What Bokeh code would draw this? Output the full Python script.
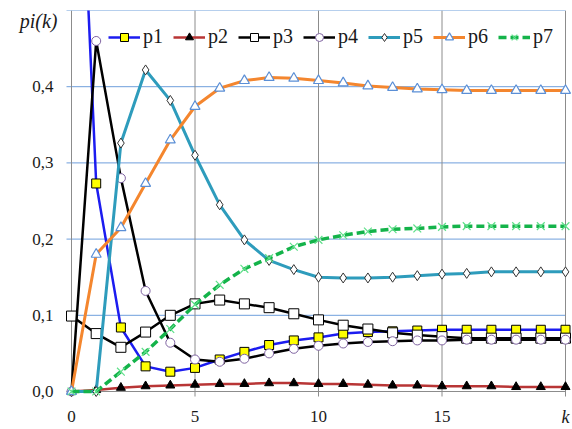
from bokeh.plotting import figure
from bokeh.models import Range1d, Legend, LegendItem
from bokeh.core.properties import value
from bokeh.embed import file_html
from bokeh.resources import INLINE

k = list(range(21))
p1 = [1.0, 0.273, 0.084, 0.033, 0.026, 0.031, 0.042, 0.052, 0.061, 0.067, 0.071,
      0.076, 0.078, 0.079, 0.080, 0.081, 0.081, 0.081, 0.081, 0.081, 0.081]
p2 = [0.0, 0.002, 0.005, 0.007, 0.008, 0.009, 0.010, 0.010, 0.011, 0.011, 0.010,
      0.010, 0.009, 0.008, 0.008, 0.007, 0.007, 0.007, 0.006, 0.006, 0.006]
p3 = [0.099, 0.076, 0.058, 0.078, 0.100, 0.115, 0.120, 0.115, 0.110, 0.102, 0.094,
      0.087, 0.082, 0.077, 0.074, 0.072, 0.070, 0.070, 0.070, 0.070, 0.070]
p4 = [0.0, 0.460, 0.280, 0.132, 0.064, 0.042, 0.039, 0.043, 0.050, 0.056, 0.060,
      0.063, 0.065, 0.066, 0.067, 0.067, 0.068, 0.068, 0.068, 0.068, 0.068]
p5 = [0.0, 0.0, 0.326, 0.422, 0.382, 0.310, 0.245, 0.199, 0.172, 0.160, 0.150,
      0.149, 0.149, 0.150, 0.152, 0.154, 0.155, 0.157, 0.157, 0.157, 0.157]
p6 = [0.0, 0.180, 0.215, 0.273, 0.330, 0.374, 0.398, 0.408, 0.412, 0.411, 0.408,
      0.405, 0.401, 0.399, 0.397, 0.396, 0.395, 0.395, 0.395, 0.395, 0.395]
p7 = [0.0, 0.0, 0.026, 0.052, 0.082, 0.114, 0.140, 0.161, 0.175, 0.190, 0.199,
      0.205, 0.210, 0.213, 0.214, 0.216, 0.217, 0.217, 0.217, 0.217, 0.217]

y_ticks = [0.0, 0.1, 0.2, 0.3, 0.4]
y_tick_labels = ["0,0", "0,1", "0,2", "0,3", "0,4"]
x_ticks = [0, 5, 10, 15]
x_tick_labels = ["0", "5", "10", "15"]
y_title = "pi(k)"
x_title = "k"
X_MAX, Y_MAX = 20, 0.5

TXT = "#1a1a1a"
GRAY = "#8c8c8c"
BLUE_GRID = "#6f9fdc"
FONT = value("Liberation Serif")

# layout in pixels (frame covers the canvas below the top border)
W, H = 572, 429
X0_PX, X1_PX = 71, 565       # pixel columns of k=0 and k=20
Y0_PX, TOP_PX = 391, 10      # pixel rows of 0.0 and of 0.5
xs = (X1_PX - X0_PX) / X_MAX
ys = (Y0_PX - TOP_PX) / Y_MAX
x_range = Range1d(-X0_PX / xs, X_MAX + (W - X1_PX) / xs)
y_range = Range1d(-(H - Y0_PX) / ys, Y_MAX)

p = figure(width=W, height=H, output_backend="svg", toolbar_location=None,
           x_range=x_range, y_range=y_range,
           x_axis_location=None, y_axis_location=None,
           min_border_left=0, min_border_right=0, min_border_top=TOP_PX, min_border_bottom=0)
p.outline_line_color = None
p.background_fill_color = "white"
p.border_fill_color = "white"
p.grid.visible = False

# grid lines (with short tick stubs outside the axes)
tick_dx = 5 / xs
tick_dy = 5 / ys
hg = y_ticks[1:] + [Y_MAX]
p.segment(x0=[-tick_dx] * len(hg), y0=hg, x1=[X_MAX] * len(hg), y1=hg,
          line_color=BLUE_GRID, line_width=1)
vg = x_ticks + [X_MAX]
p.segment(x0=vg, y0=[-tick_dy] * len(vg), x1=vg, y1=[Y_MAX] * len(vg),
          line_color=GRAY, line_width=1)
p.segment(x0=[-tick_dx], y0=[0.0], x1=[X_MAX], y1=[0.0], line_color=GRAY, line_width=1)

# tick labels and axis titles
p.text(x=[0] * len(y_ticks), y=y_ticks, text=y_tick_labels, x_offset=-18,
       text_align="right", text_baseline="middle", text_font=FONT,
       text_font_size="17px", text_color=TXT)
p.text(x=x_ticks, y=[0] * len(x_ticks), text=x_tick_labels, y_offset=25,
       text_align="center", text_baseline="middle", text_font=FONT,
       text_font_size="17px", text_color=TXT)
p.text(x=[0], y=[Y_MAX], text=[y_title], x_offset=-14, y_offset=10,
       text_align="right", text_baseline="middle", text_font=FONT,
       text_font_style="italic", text_font_size="20px", text_color=TXT)
p.text(x=[X_MAX], y=[0], text=[x_title], y_offset=25,
       text_align="center", text_baseline="middle", text_font=FONT,
       text_font_style="italic", text_font_size="18px", text_color=TXT)

r_p1l = p.line(k, p1, line_color="#1c1cf0", line_width=2.5)
r_p1m = p.scatter(k, p1, marker="square", size=9, fill_color="#ffff00", line_color="#000000", line_width=1)
r_p2l = p.line(k, p2, line_color="#b83535", line_width=2.5)
r_p2m = p.scatter(k, p2, marker="triangle", size=9, fill_color="#000000", line_color="#000000")
r_p3l = p.line(k, p3, line_color="#000000", line_width=2.5)
r_p3m = p.scatter(k, p3, marker="square", size=10, fill_color="white", line_color="#000000", line_width=1)
r_p4l = p.line(k, p4, line_color="#000000", line_width=2.5)
r_p4m = p.scatter(k, p4, marker="circle", size=9, fill_color="white", line_color="#8064a2", line_width=1)
r_p5l = p.line(k, p5, line_color="#2e9cbc", line_width=3)
r_p5m = p.scatter(k, p5, marker="diamond", size=10, fill_color="white", line_color="#333333", line_width=1)
r_p6l = p.line(k, p6, line_color="#f4862e", line_width=3)
r_p6m = p.scatter(k, p6, marker="triangle", size=10, fill_color="white", line_color="#5b8fd6", line_width=1.2)
r_p7l = p.line(k, p7, line_color="#14b34a", line_width=3.5, line_dash="8 4")
r_p7m = p.scatter(k, p7, marker="x", size=11, line_color="#5fe08a", line_width=1.2)

items = [
    LegendItem(label="p1", renderers=[r_p1l, r_p1m]),
    LegendItem(label="p2", renderers=[r_p2l, r_p2m]),
    LegendItem(label="p3", renderers=[r_p3l, r_p3m]),
    LegendItem(label="p4", renderers=[r_p4l, r_p4m]),
    LegendItem(label="p5", renderers=[r_p5l, r_p5m]),
    LegendItem(label="p6", renderers=[r_p6l, r_p6m]),
    LegendItem(label="p7", renderers=[r_p7l, r_p7m]),
]
legend = Legend(items=items, orientation="horizontal", location=(108, H - 48),
                background_fill_alpha=0, border_line_color=None,
                padding=0, margin=0, spacing=10, glyph_width=32, glyph_height=20,
                label_standoff=3, label_text_font="serif", label_text_font_size="20px",
                label_text_color=TXT, label_height=20)
p.add_layout(legend)

open("out.html", "w").write(file_html(p, INLINE))
